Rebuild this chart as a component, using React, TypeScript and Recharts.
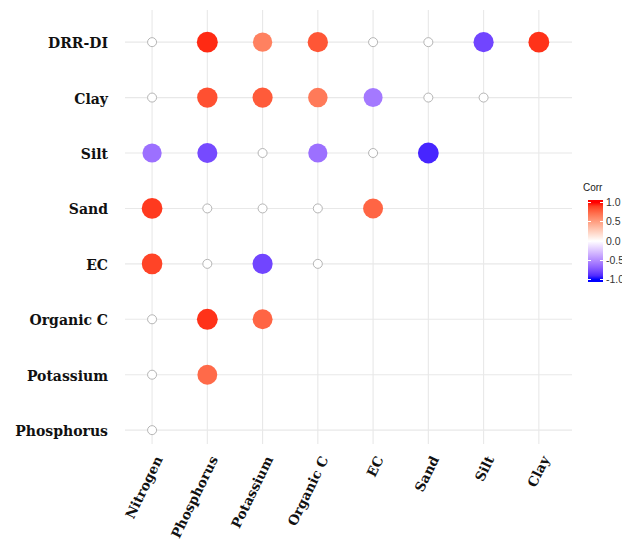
import React from 'react';
import {
  ScatterChart,
  Scatter,
  XAxis,
  YAxis,
  CartesianGrid,
  Legend,
} from 'recharts';

// column variables (x axis, left to right)
const columns = ['Nitrogen', 'Phosphorus', 'Potassium', 'Organic C', 'EC', 'Sand', 'Silt', 'Clay'];
// row variables (y axis, top to bottom)
const rowLabels = ['DRR-DI', 'Clay', 'Silt', 'Sand', 'EC', 'Organic C', 'Potassium', 'Phosphorus'];

// correlations per row; null = not significant (hollow marker)
const drrDiRow = [null, 0.95, 0.64, 0.82, null, null, -0.8, 0.93];
const clayRow = [null, 0.84, 0.8, 0.67, -0.58, null, null];
const siltRow = [-0.62, -0.78, null, -0.62, null, -0.92];
const sandRow = [0.91, null, null, null, 0.76];
const ecRow = [0.88, null, -0.8, null];
const organicCRow = [null, 0.93, 0.76];
const potassiumRow = [null, 0.74];
const phosphorusRow = [null];

const rows = [drrDiRow, clayRow, siltRow, sandRow, ecRow, organicCRow, potassiumRow, phosphorusRow];

const legendTicks = [1, 0.5, 0, -0.5, -1];

const colTicks = columns.map((_, i) => i);
const rowTicks = rowLabels.map((_, i) => i);

// ggplot-style blue-white-red gradient, interpolated in CIELAB
const LAB_WHITE = [100, 0, 0];
const LAB_RED = [53.24, 80.09, 67.2];
const LAB_BLUE = [32.3, 79.19, -107.86];

function labToHex([L, a, b]: number[]) {
  const fy = (L + 16) / 116;
  const fx = fy + a / 500;
  const fz = fy - b / 200;
  const inv = (t: number) => (t ** 3 > 0.008856 ? t ** 3 : (t - 16 / 116) / 7.787);
  const X = 0.95047 * inv(fx);
  const Y = inv(fy);
  const Z = 1.08883 * inv(fz);
  const lin = [
    3.2406 * X - 1.5372 * Y - 0.4986 * Z,
    -0.9689 * X + 1.8758 * Y + 0.0415 * Z,
    0.0557 * X - 0.204 * Y + 1.057 * Z,
  ];
  return (
    '#' +
    lin
      .map((c) => {
        const v = c <= 0.0031308 ? 12.92 * c : 1.055 * Math.pow(c, 1 / 2.4) - 0.055;
        const n = Math.round(Math.min(1, Math.max(0, v)) * 255);
        return n.toString(16).padStart(2, '0');
      })
      .join('')
  );
}

function corrColor(v: number) {
  const end = v >= 0 ? LAB_RED : LAB_BLUE;
  const t = Math.abs(v);
  return labToHex(LAB_WHITE.map((w, i) => w + (end[i] - w) * t));
}

const sigPoints: { x: number; y: number; v: number }[] = [];
const insigPoints: { x: number; y: number }[] = [];
rows.forEach((row, r) => {
  row.forEach((v, c) => {
    const y = rowLabels.length - 1 - r;
    if (v === null) insigPoints.push({ x: c, y });
    else sigPoints.push({ x: c, y, v });
  });
});

const labelFont = '"DejaVu Serif", serif';

function XTick({ x, y, payload }: any) {
  return (
    <text
      transform={`translate(${x + 11},${y + 7}) rotate(-64)`}
      textAnchor="end"
      fontFamily={labelFont}
      fontWeight="bold"
      fontSize={13.5}
      fill="#111"
    >
      {columns[payload.value]}
    </text>
  );
}

function YTick({ x, y, payload }: any) {
  return (
    <text
      x={x - 9}
      y={y + 6}
      textAnchor="end"
      fontFamily={labelFont}
      fontWeight="bold"
      fontSize={14}
      fill="#111"
    >
      {rowLabels[rowLabels.length - 1 - payload.value]}
    </text>
  );
}

function SigDot({ cx, cy, payload }: any) {
  return <circle cx={cx} cy={cy} r={8 + 2.6 * Math.abs(payload.v)} fill={corrColor(payload.v)} />;
}

function InsigDot({ cx, cy }: any) {
  return <circle cx={cx} cy={cy} r={4.5} fill="#fff" stroke="#b5b5b5" strokeWidth={1} />;
}

function CorrLegend() {
  const stops = [];
  for (let i = 0; i <= 20; i++) {
    const v = 1 - i / 10;
    stops.push(`${corrColor(v)} ${(3 + (i / 20) * 94).toFixed(1)}%`);
  }
  const barH = 82;
  return (
    <div style={{ position: 'relative', width: 60, height: 110, fontFamily: '"Liberation Sans", Arial, sans-serif' }}>
      <div style={{ position: 'absolute', left: 1, top: 0, fontSize: 10, color: '#1a1a1a' }}>Corr</div>
      <div
        style={{
          position: 'absolute',
          left: 6,
          top: 18,
          width: 15,
          height: barH,
          background: `linear-gradient(to bottom, ${stops.join(', ')})`,
        }}
      />
      {legendTicks.map((t) => {
        const ty = 18 + barH * (0.03 + ((1 - t) / 2) * 0.94);
        return (
          <React.Fragment key={t}>
            <div style={{ position: 'absolute', left: 6, top: ty - 0.5, width: 3, height: 1, background: '#fff' }} />
            <div style={{ position: 'absolute', left: 18, top: ty - 0.5, width: 3, height: 1, background: '#fff' }} />
            <div style={{ position: 'absolute', left: 24, top: ty - 6.5, fontSize: 10.5, color: '#333', whiteSpace: 'nowrap' }}>
              {t.toFixed(1)}
            </div>
          </React.Fragment>
        );
      })}
    </div>
  );
}

export default function App() {
  return (
    <div style={{ position: 'absolute', left: 0, top: 0, width: 622, height: 543, overflow: 'hidden', background: '#fff' }}>
      <ScatterChart width={622} height={543} margin={{ top: 10, right: 50, bottom: 0, left: 0 }}>
        {/* syncWithTicks: grid only at category positions, no frame round the panel */}
        <CartesianGrid stroke="#e8e8e8" strokeWidth={1.1} syncWithTicks />
        <XAxis
          type="number"
          dataKey="x"
          domain={[-0.49, 7.6]}
          ticks={colTicks}
          axisLine={false}
          tickLine={false}
          height={99}
          tick={<XTick />}
          interval={0}
        />
        <YAxis
          type="number"
          dataKey="y"
          domain={[-0.25, 7.58]}
          ticks={rowTicks}
          axisLine={false}
          tickLine={false}
          width={125}
          tick={<YTick />}
          interval={0}
        />
        <Legend
          layout="horizontal"
          verticalAlign="middle"
          align="center"
          content={<CorrLegend />}
          wrapperStyle={{ position: 'absolute', left: 582, top: 182, width: 60 }}
        />
        <Scatter data={insigPoints} shape={<InsigDot />} isAnimationActive={false} />
        <Scatter data={sigPoints} shape={<SigDot />} isAnimationActive={false} />
      </ScatterChart>
    </div>
  );
}
